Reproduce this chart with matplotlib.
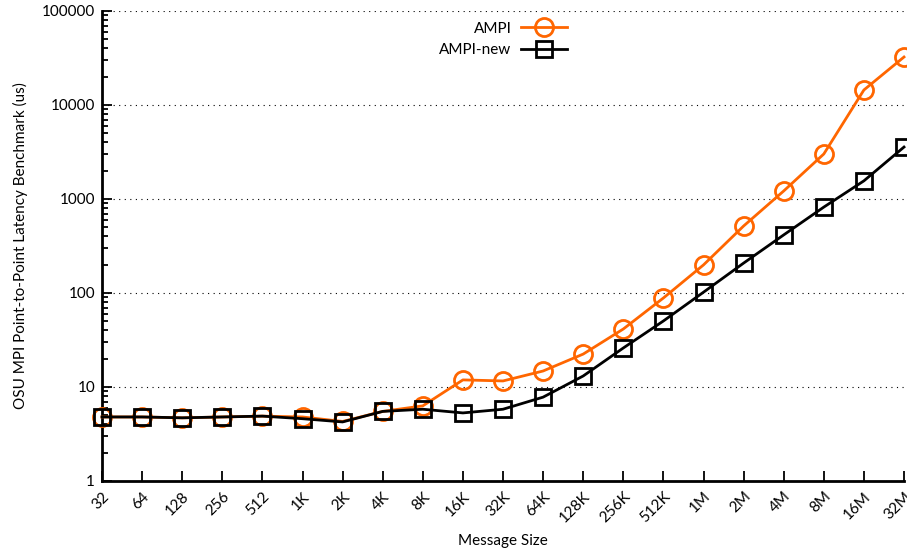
import numpy as np
import matplotlib
matplotlib.use('Agg')
import matplotlib.pyplot as plt
from matplotlib.ticker import LogLocator, NullFormatter

plt.rcParams['font.family'] = ['Lato', 'DejaVu Sans']

sizes = ['32', '64', '128', '256', '512', '1K', '2K', '4K', '8K', '16K', '32K',
         '64K', '128K', '256K', '512K', '1M', '2M', '4M', '8M', '16M', '32M']
ampi = [4.8, 4.8, 4.7, 4.8, 4.9, 4.8, 4.3, 5.5, 6.3, 11.9, 11.6,
        14.8, 22.4, 41.4, 88.5, 199, 516, 1217, 3012, 14450, 32400]
ampi_new = [4.8, 4.8, 4.7, 4.8, 4.9, 4.6, 4.25, 5.5, 5.8, 5.3, 5.8,
            7.8, 13.1, 26, 50.4, 102, 208, 415, 820, 1560, 3570]

fig = plt.figure(figsize=(9.07, 5.5), dpi=100)
ax = fig.add_axes([102 / 907, 1 - 481 / 550, 802 / 907, 470 / 550])

x = np.arange(len(sizes))
ax.plot(x, ampi, color='#ff6600', lw=2, marker='o', ms=13, mew=2,
        mfc='none', label='AMPI', clip_on=False, zorder=3)
ax.plot(x, ampi_new, color='black', lw=2, marker='s', ms=11.5, mew=2,
        mfc='none', label='AMPI-new', clip_on=False, zorder=4)

ax.set_yscale('log')
ax.set_ylim(1, 100000)
ax.set_xlim(0, len(sizes) - 1)
ax.set_yticks([1, 10, 100, 1000, 10000, 100000])
ax.set_yticklabels(['1', '10', '100', '1000', '10000', '100000'])
ax.yaxis.set_minor_locator(LogLocator(base=10, subs=np.arange(2, 10)))
ax.yaxis.set_minor_formatter(NullFormatter())
ax.set_xticks(x)
ax.set_xticklabels(sizes, rotation=45, ha='right', rotation_mode='anchor')

ax.grid(axis='y', which='major', linestyle=(0, (1, 4)), color='black', lw=0.8)
ax.set_axisbelow(True)

for s in ['top', 'right']:
    ax.spines[s].set_visible(False)
for s in ['left', 'bottom']:
    ax.spines[s].set_linewidth(2)

ax.tick_params(axis='both', which='major', direction='in', length=7, width=1.3,
               labelsize=11)
ax.tick_params(axis='y', which='minor', direction='in', length=4, width=1.3)
ax.tick_params(axis='x', pad=6)
ax.tick_params(axis='y', pad=5)

ax.set_xlabel('Message Size', fontsize=11, labelpad=6)
ax.set_ylabel('OSU MPI Point-to-Point Latency Benchmark (us)', fontsize=11,
              labelpad=10)

ax.legend(loc='upper center', bbox_to_anchor=(0.5, 1.0), frameon=False,
          markerfirst=False, handlelength=3.0, fontsize=11,
          labelspacing=0.5, borderaxespad=0.3, handletextpad=0.6)

fig.savefig('out.png', dpi=100)
